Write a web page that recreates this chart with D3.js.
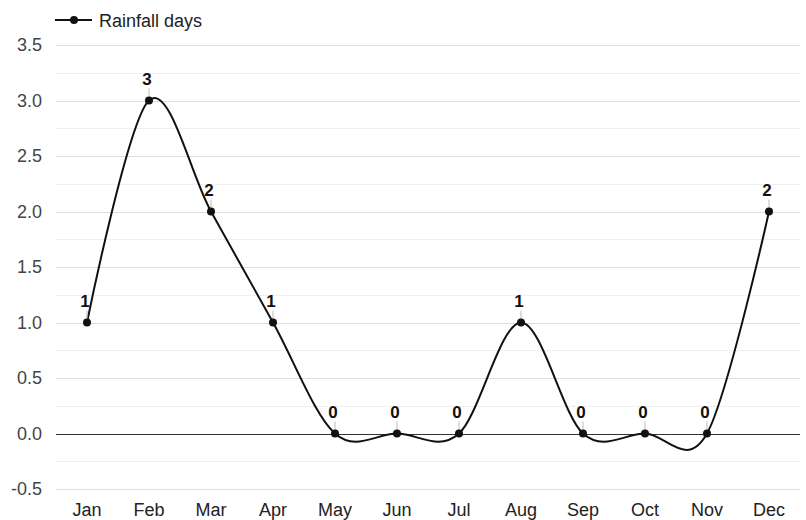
<!DOCTYPE html>
<html><head><meta charset="utf-8">
<script src="https://cdn.jsdelivr.net/npm/d3@7"></script>
<style>body{margin:0;background:#fff;font-family:Arial,"Liberation Sans",sans-serif}</style>
</head><body><svg id="c" width="806" height="520"></svg>
<script>
const months = ["Jan","Feb","Mar","Apr","May","Jun","Jul","Aug","Sep","Oct","Nov","Dec"];
const rainfallDays = [1,3,2,1,0,0,0,1,0,0,0,2];
const yTicks = [-0.5,0,0.5,1,1.5,2,2.5,3,3.5];
const yMinor = [-0.25,0.25,0.75,1.25,1.75,2.25,2.75,3.25];
const seriesName = "Rainfall days";

const FONT = "Arial,'Liberation Sans',sans-serif";
const svg = d3.select("#c");
const plotL = 56, plotR = 800, plotT = 45, plotB = 489;
const x = d3.scaleBand().domain(months).range([plotL, plotR]);
const y = d3.scaleLinear().domain([-0.5, 3.5]).range([plotB, plotT]);
const cx = d => x(d) + x.bandwidth()/2;

// minor grid
svg.append("g").selectAll("line").data(yMinor).join("line")
  .attr("x1", plotL).attr("x2", plotR)
  .attr("y1", d => Math.round(y(d))+0.5).attr("y2", d => Math.round(y(d))+0.5)
  .attr("stroke", "#f0f0f0").attr("stroke-width", 1);
// major grid
svg.append("g").selectAll("line").data(yTicks.filter(d => d !== 0)).join("line")
  .attr("x1", plotL).attr("x2", plotR)
  .attr("y1", d => Math.round(y(d))+0.5).attr("y2", d => Math.round(y(d))+0.5)
  .attr("stroke", "#dedede").attr("stroke-width", 1);
// zero line
svg.append("line").attr("x1", plotL).attr("x2", plotR)
  .attr("y1", Math.round(y(0))+0.5).attr("y2", Math.round(y(0))+0.5)
  .attr("stroke", "#333").attr("stroke-width", 1);

// y axis
const fmt = d3.format(".1f");
const yAxis = d3.axisLeft(y).tickValues(yTicks).tickFormat(d => fmt(d).replace("\u2212", "-")).tickSize(0).tickPadding(14);
const gy = svg.append("g").attr("transform", `translate(${plotL},0)`).call(yAxis);
gy.select(".domain").remove();
gy.selectAll("text").attr("font-size", 18).attr("fill", "#444").attr("font-family", FONT);

// x axis
const xAxis = d3.axisBottom(x).tickSize(0).tickPadding(14);
const gx = svg.append("g").attr("transform", `translate(0,${plotB})`).call(xAxis);
gx.select(".domain").remove();
gx.selectAll("text").attr("font-size", 18).attr("fill", "#222").attr("font-family", FONT);

const data = months.map((m,i) => ({m, v: rainfallDays[i]}));

// line
const line = d3.line().x(d => cx(d.m)).y(d => y(d.v)).curve(d3.curveCardinal.tension(0));
svg.append("path").datum(data).attr("d", line)
  .attr("fill", "none").attr("stroke", "#111").attr("stroke-width", 2);

// label ticks
svg.append("g").selectAll("line").data(data).join("line")
  .attr("x1", d => cx(d.m)).attr("x2", d => cx(d.m))
  .attr("y1", d => y(d.v) - 12).attr("y2", d => y(d.v))
  .attr("stroke", "#bbb").attr("stroke-width", 1);

// points
svg.append("g").selectAll("circle").data(data).join("circle")
  .attr("cx", d => cx(d.m)).attr("cy", d => y(d.v)).attr("r", 4).attr("fill", "#111");

// labels
svg.append("g").selectAll("text").data(data).join("text")
  .attr("x", d => cx(d.m) - 2).attr("y", d => y(d.v) - 16)
  .attr("text-anchor", "middle").attr("font-size", 17).attr("font-weight", "bold")
  .attr("font-family", FONT).attr("fill", "#111").text(d => d.v);

// legend
const lg = svg.append("g");
lg.append("line").attr("x1", 55).attr("x2", 92).attr("y1", 20).attr("y2", 20).attr("stroke", "#111").attr("stroke-width", 2);
lg.append("circle").attr("cx", 74).attr("cy", 20).attr("r", 4).attr("fill", "#111");
lg.append("text").attr("x", 99).attr("y", 27).attr("font-size", 18).attr("font-family", FONT).attr("fill", "#222").text(seriesName);
</script></body></html>
